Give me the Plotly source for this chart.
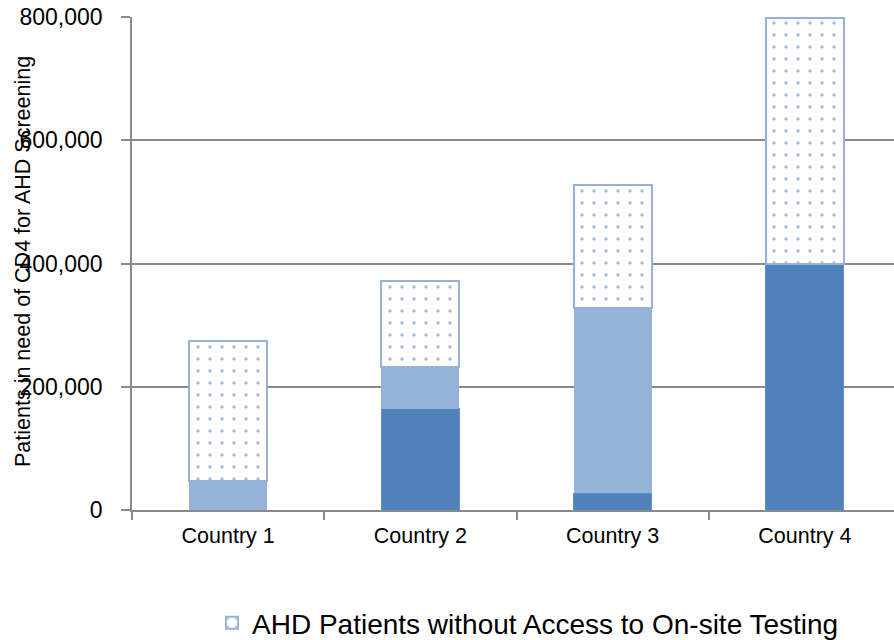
import plotly.graph_objects as go

countries = ["Country 1", "Country 2", "Country 3", "Country 4"]
onsite = [0, 164000, 27000, 400000]
referral = [47000, 68000, 301000, 0]
no_access = [227000, 140000, 199000, 398000]
yticks = [0, 200000, 400000, 600000, 800000]
ytitle = "Patients in need of CD4 for AHD Screening"
name_onsite = "AHD Patients with Access to On-site Testing"
name_referral = "AHD Patients with Access to Referral Testing"
name_none = "AHD Patients without Access to On-site Testing"

DARK = "#4F81BD"
LIGHT = "#95B3D7"
FONT = "Liberation Sans"

fig = go.Figure()
fig.add_trace(go.Bar(x=countries, y=onsite, name=name_onsite, showlegend=False,
                     marker=dict(color=DARK, line=dict(color="#5B8FD3", width=1))))
fig.add_trace(go.Bar(x=countries, y=referral, name=name_referral, showlegend=False,
                     marker=dict(color=LIGHT, line=dict(color=LIGHT, width=0))))
fig.add_trace(go.Bar(x=countries, y=no_access, name=name_none,
                     marker=dict(color="white", line=dict(color=LIGHT, width=2),
                                 pattern=dict(shape=".", fgcolor="#3F74B8", bgcolor="white",
                                              size=12, solidity=0.06))))

fig.update_layout(
    width=894, height=640,
    margin=dict(l=132, r=0, t=17, b=130, autoexpand=False),
    barmode="stack", bargap=0.594,
    plot_bgcolor="white", paper_bgcolor="white",
    font=dict(family=FONT, color="black"),
    showlegend=True,
    legend=dict(orientation="h", x=(212 - 132) / 762, xanchor="left",
                y=(510 - 623) / 493, yanchor="middle",
                font=dict(size=28, family=FONT), bgcolor="rgba(0,0,0,0)"),
    xaxis=dict(type="category", range=[-0.5, 3.4636], showgrid=False,
               showline=True, linecolor="#8a8a8a", linewidth=1.5,
               ticks="outside", tickson="boundaries", ticklen=8, tickcolor="#8a8a8a",
               tickwidth=1.5, ticklabelstandoff=5,
               tickfont=dict(size=21.5, family=FONT)),
    yaxis=dict(range=[0, 800000], tickvals=yticks, tickformat=",.0f",
               showgrid=True, gridcolor="#8a8a8a", gridwidth=1.5,
               showline=True, linecolor="#8a8a8a", linewidth=1.5,
               zeroline=False,
               ticks="outside", ticklen=9, tickcolor="#8a8a8a", tickwidth=1.5,
               ticklabelstandoff=14,
               tickfont=dict(size=23, family=FONT)),
    annotations=[dict(text=ytitle, textangle=-90, xref="paper", yref="paper",
                      x=(23 - 132) / 762, y=(510 - 262) / 493,
                      xanchor="center", yanchor="middle", showarrow=False,
                      font=dict(size=21.5, family=FONT, color="black"))],
)

fig.write_html("out.html")
